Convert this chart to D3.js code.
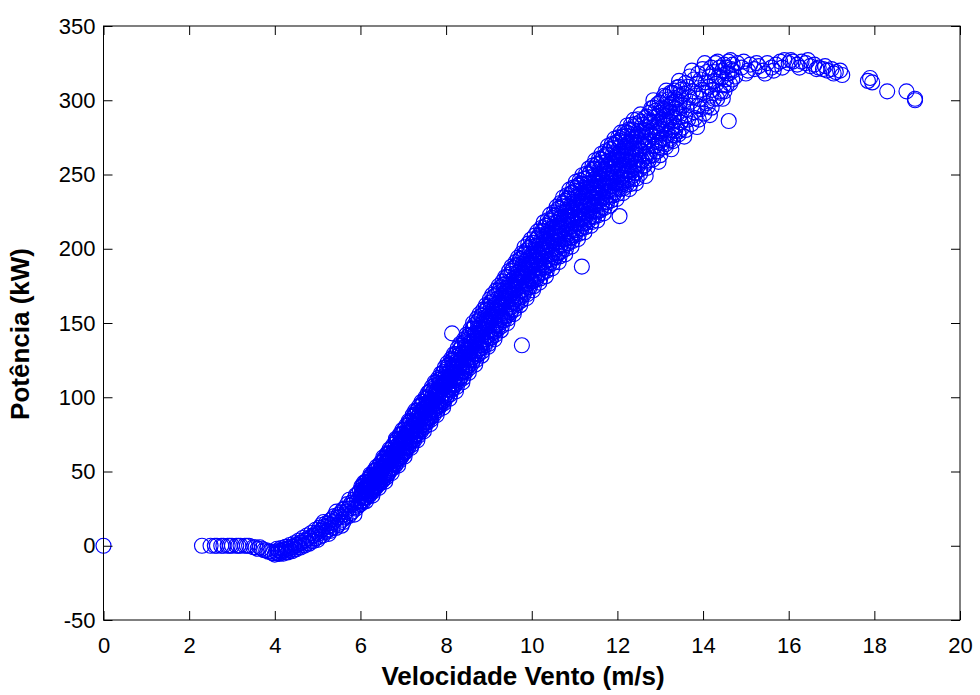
<!DOCTYPE html>
<html><head><meta charset="utf-8">
<script src="https://cdn.jsdelivr.net/npm/d3@7"></script>
<style>body{margin:0;background:#fff}svg{display:block}text{font-family:"Liberation Sans",Arial,sans-serif}</style>
</head><body><svg id="c" width="980" height="695"></svg>
<script>
const xTicks=[0,2,4,6,8,10,12,14,16,18,20];
const yTicks=[-50,0,50,100,150,200,250,300,350];
const xLabel="Velocidade Vento (m/s)";
const yLabel="Potência (kW)";

// ---- samples: wind speed (m/s) / power (kW) ----
// below cut-in
const speedLow=[0,2.3,2.5,2.6,2.65,2.75,2.8,2.9,2.95,3.0,3.1,3.15,3.2,3.3,3.35,3.4,3.5,3.55,3.6,3.65,3.7,3.75,3.8,3.85,3.9,3.95];
const powerLow=[0,0,0,0,0,0,0,0,0,0,0,0,0,0,0,0,-1,-1,-2,-1,-2,-3,-3,-4,-4,-5];
// 4 - 6 m/s
const speedRise=[
4.0,4.06,4.03,4.08,4.05, 4.1,4.16,4.13,4.18,4.15, 4.2,4.26,4.23,4.28,4.25, 4.3,4.36,4.33,4.38,4.35, 4.4,4.46,4.43,4.48,4.45,
4.5,4.56,4.53,4.58,4.55, 4.6,4.66,4.63,4.68,4.65, 4.7,4.76,4.73,4.78,4.75, 4.8,4.86,4.83,4.88,4.85, 4.9,4.96,4.93,4.98,4.95,
5,5.05,5.02,5.07,5.04,5.09, 5.13,5.18,5.11,5.16,5.19,5.14, 5.26,5.21,5.28,5.23,5.25,5.29, 5.3,5.35,5.32,5.37,5.34,5.39,
5.43,5.48,5.41,5.46,5.49,5.44, 5.56,5.51,5.58,5.53,5.55,5.59, 5.6,5.65,5.62,5.67,5.64,5.69, 5.73,5.78,5.71,5.76,5.79,5.74,
5.86,5.81,5.88,5.83,5.85,5.89, 5.9,5.95,5.92,5.97,5.94,5.99];
const powerRise=[
-6,-5,-4,-3,-2, -5.5,-4.5,-3.5,-2.5,-1.5, -5.3,-4.1,-3,-1.9,-0.8, -4.5,-3.3,-2,-0.7,0.5, -3.7,-2.4,-1,0.4,1.7,
-2.4,-0.9,0.5,1.9,3.4, -1.2,0.4,2,3.6,5.2, 0.1,1.8,3.5,5.2,6.9, 1.4,3.2,5,6.8,8.6, 3.2,5.1,7,8.9,10.8,
4,6,8,10,12,14, 7,9,11,13,15,16, 8,10,11,13,15,17, 10,12,14,16,18,20,
12,14,17,19,21,23, 13.5,15.5,17.5,19.5,22.5,24.5, 16,19,21,23,25,28, 20,22,25,27,29,31,
21,23,26,28,31,34, 25,27,30,32,35,37];
// 6 - 12.5 m/s (dense band)
const speedCore=[
6,6.02,6.01,6.03,6.04,6.02, 6.06,6.08,6.05,6.09,6.07,6.08, 6.13,6.1,6.12,6.11,6.14,6.12, 6.15,6.17,6.16,6.18,6.19,6.17,
6.21,6.23,6.2,6.24,6.22,6.23, 6.28,6.25,6.27,6.26,6.29,6.27, 6.3,6.32,6.31,6.33,6.34,6.32, 6.36,6.38,6.35,6.39,6.37,6.38,
6.43,6.4,6.42,6.41,6.44,6.42, 6.45,6.47,6.46,6.48,6.49,6.47, 6.51,6.53,6.5,6.54,6.52,6.53, 6.58,6.55,6.57,6.56,6.59,6.57,
6.6,6.62,6.61,6.63,6.64,6.62, 6.66,6.68,6.65,6.69,6.67,6.68, 6.73,6.7,6.72,6.71,6.74,6.72, 6.75,6.77,6.76,6.78,6.79,6.77,
6.81,6.83,6.8,6.84,6.82,6.83, 6.88,6.85,6.87,6.86,6.89,6.87, 6.9,6.92,6.91,6.93,6.94,6.92, 6.96,6.98,6.95,6.99,6.97,6.98,
7.03,7,7.02,7.01,7.04,7.02, 7.05,7.07,7.06,7.08,7.09,7.07, 7.11,7.13,7.1,7.14,7.12,7.13, 7.18,7.15,7.17,7.16,7.19,7.17,
7.2,7.22,7.21,7.23,7.24,7.22, 7.26,7.28,7.25,7.29,7.27,7.28, 7.33,7.3,7.32,7.31,7.34,7.32, 7.35,7.37,7.36,7.38,7.39,7.37,
7.41,7.43,7.4,7.44,7.42,7.43, 7.48,7.45,7.47,7.46,7.49,7.47, 7.5,7.52,7.51,7.53,7.54,7.52, 7.56,7.58,7.55,7.59,7.57,7.58,
7.63,7.6,7.62,7.61,7.64,7.62, 7.65,7.67,7.66,7.68,7.69,7.67, 7.71,7.73,7.7,7.74,7.72,7.73, 7.78,7.75,7.77,7.76,7.79,7.77,
7.8,7.82,7.81,7.83,7.84,7.82, 7.86,7.88,7.85,7.89,7.87,7.88, 7.93,7.9,7.92,7.91,7.94,7.92, 7.95,7.97,7.96,7.98,7.99,7.97,
8.01,8.03,8,8.04,8.02,8.03, 8.08,8.05,8.07,8.06,8.09,8.07, 8.1,8.12,8.11,8.13,8.14,8.12, 8.16,8.18,8.15,8.19,8.17,8.18,
8.23,8.2,8.22,8.21,8.24,8.22, 8.25,8.27,8.26,8.28,8.29,8.27, 8.31,8.33,8.3,8.34,8.32,8.33, 8.38,8.35,8.37,8.36,8.39,8.37,
8.4,8.42,8.41,8.43,8.44,8.42, 8.46,8.48,8.45,8.49,8.47,8.48, 8.53,8.5,8.52,8.51,8.54,8.52, 8.55,8.57,8.56,8.58,8.59,8.57,
8.61,8.63,8.6,8.64,8.62,8.63, 8.68,8.65,8.67,8.66,8.69,8.67, 8.7,8.72,8.71,8.73,8.74,8.72, 8.76,8.78,8.75,8.79,8.77,8.78,
8.83,8.8,8.82,8.81,8.84,8.82, 8.85,8.87,8.86,8.88,8.89,8.87, 8.91,8.93,8.9,8.94,8.92,8.93, 8.98,8.95,8.97,8.96,8.99,8.97,
9,9.02,9.01,9.03,9.04,9.02, 9.06,9.08,9.05,9.09,9.07,9.08, 9.13,9.1,9.12,9.11,9.14,9.12, 9.15,9.17,9.16,9.18,9.19,9.17,
9.21,9.23,9.2,9.24,9.22,9.23, 9.28,9.25,9.27,9.26,9.29,9.27, 9.3,9.32,9.31,9.33,9.34,9.32, 9.36,9.38,9.35,9.39,9.37,9.38,
9.43,9.4,9.42,9.41,9.44,9.42, 9.45,9.47,9.46,9.48,9.49,9.47, 9.51,9.53,9.5,9.54,9.52,9.53, 9.58,9.55,9.57,9.56,9.59,9.57,
9.6,9.62,9.61,9.63,9.64,9.62, 9.66,9.68,9.65,9.69,9.67,9.68, 9.73,9.7,9.72,9.71,9.74,9.72, 9.75,9.77,9.76,9.78,9.79,9.77,
9.81,9.83,9.8,9.84,9.82,9.83, 9.88,9.85,9.87,9.86,9.89,9.87, 9.9,9.92,9.91,9.93,9.94,9.92, 9.96,9.98,9.95,9.99,9.97,9.98,
10.03,10,10.02,10.01,10.04,10.02, 10.05,10.07,10.06,10.08,10.09,10.07, 10.11,10.13,10.1,10.14,10.12,10.13, 10.18,10.15,10.17,10.16,10.19,10.17,
10.2,10.22,10.21,10.23,10.24,10.22, 10.26,10.28,10.25,10.29,10.27,10.28, 10.33,10.3,10.32,10.31,10.34,10.32, 10.35,10.37,10.36,10.38,10.39,10.37,
10.41,10.43,10.4,10.44,10.42,10.43, 10.48,10.45,10.47,10.46,10.49,10.47, 10.5,10.52,10.51,10.53,10.54,10.52, 10.56,10.58,10.55,10.59,10.57,10.58,
10.63,10.6,10.62,10.61,10.64,10.62, 10.65,10.67,10.66,10.68,10.69,10.67, 10.71,10.73,10.7,10.74,10.72,10.73, 10.78,10.75,10.77,10.76,10.79,10.77,
10.8,10.82,10.81,10.83,10.84,10.82, 10.86,10.88,10.85,10.89,10.87,10.88, 10.93,10.9,10.92,10.91,10.94,10.92, 10.95,10.97,10.96,10.98,10.99,10.97,
11.01,11.03,11,11.04,11.02,11.03, 11.08,11.05,11.07,11.06,11.09,11.07, 11.1,11.12,11.11,11.13,11.14,11.12, 11.16,11.18,11.15,11.19,11.17,11.18,
11.23,11.2,11.22,11.21,11.24,11.22, 11.25,11.27,11.26,11.28,11.29,11.27, 11.31,11.33,11.3,11.34,11.32,11.33, 11.38,11.35,11.37,11.36,11.39,11.37,
11.4,11.42,11.41,11.43,11.44,11.42, 11.46,11.48,11.45,11.49,11.47,11.48, 11.53,11.5,11.52,11.51,11.54,11.52, 11.55,11.57,11.56,11.58,11.59,11.57,
11.61,11.63,11.6,11.64,11.62,11.63, 11.68,11.65,11.67,11.66,11.69,11.67, 11.7,11.72,11.71,11.73,11.74,11.72, 11.76,11.78,11.75,11.79,11.77,11.78,
11.83,11.8,11.82,11.81,11.84,11.82, 11.85,11.87,11.86,11.88,11.89,11.87, 11.91,11.93,11.9,11.94,11.92,11.93, 11.98,11.95,11.97,11.96,11.99,11.97,
12,12.02,12.01,12.03,12.04,12.02, 12.06,12.08,12.05,12.09,12.07,12.08, 12.13,12.1,12.12,12.11,12.14,12.12, 12.15,12.17,12.16,12.18,12.19,12.17,
12.21,12.23,12.2,12.24,12.22,12.23, 12.28,12.25,12.27,12.26,12.29,12.27, 12.3,12.32,12.31,12.33,12.34,12.32, 12.36,12.38,12.35,12.39,12.37,12.38,
12.43,12.4,12.42,12.41,12.44,12.42, 12.45,12.47,12.46,12.48,12.49,12.47];
const powerCore=[
28,30,33,35,38,40, 29.5,32.5,35.5,37.5,40.5,42.5, 30,32,35,37,40,43, 32.5,34.5,37.5,39.5,42.5,44.5,
34,37,40,43,46,48, 33.8,36.8,39.8,41.8,44.8,47.8, 36.5,39.5,42.5,44.5,47.5,50.5, 39.2,42.2,45.2,48.2,51.2,53.2,
39,42,45,47,50,53, 41.8,44.8,47.8,49.8,52.8,55.8, 43.5,46.5,50.5,53.5,56.5,59.5, 43.2,46.2,49.2,53.2,56.2,59.2,
46,49,52,56,59,62, 49,52,56,59,62,65, 49,52,55,59,62,65, 52,55,58,62,65,68,
54,58,61,65,69,72, 54,57,61,65,68,72, 57,60,64,68,72,75, 60,64,67,71,75,78,
60,63,67,71,74,78, 63,66,70,74,78,81, 66,70,73,77,81,84, 66,69,73,77,80,84,
68,72,76,80,84,88, 71,75,79,84,88,91, 71,75,79,83,87,91, 74,78,82,86,90,94,
77,81,85,90,94,97, 77,81,85,89,93,97, 80,84,88,92,96,100, 83,87,91,96,100,103,
82,86,90,95,99,104, 85,89,94,98,103,107, 88,93,97,102,106,110, 88,92,96,101,105,110,
91,95,100,104,109,113, 94,99,103,108,112,116, 93,97,102,107,112,116, 96,101,106,110,115,120,
100,105,109,114,119,123, 99,103,108,113,118,122, 102,107,112,116,121,126, 106,111,115,120,125,129,
104,108,114,119,124,129, 107,112,117,123,128,133, 111,116,121,126,132,136, 110,114,120,125,130,135,
113,118,123,129,134,139, 117.2,122.2,127.2,132.2,138.2,142.2, 116.5,120.5,126.5,131.5,136.5,141.5, 119.8,124.8,129.8,135.8,140.8,145.8,
123,129,134,140,146,150, 122,127,132,138,143,149, 125,131,136,142,147,153, 129,135,140,146,152,156,
128,133,138,144,149,155, 131,137,142,148,153,159, 135,141,146,152,158,162, 134,139,144,150,155,161,
136,142,148,154,160,166, 140,146,152,158,164,169, 139,144,150,156,162,168, 142,148,154,160,166,172,
146,152,158,164,170,175, 145,150,156,162,168,174, 148,154,160,166,172,178, 152,158,164,170,176,181,
150,155,162,168,174,181, 153,160,166,172,178,185, 157,164,170,176,183,188, 156,161,168,174,180,187,
159,166,172,178,184,191, 163,170,176,182,189,194, 162,167,174,180,186,193, 165,172,178,184,190,197,
169,175,182,189,196,201, 166.8,172.8,179.8,185.8,192.8,198.8, 169.5,176.5,183.5,189.5,196.5,203.5, 174.2,180.2,187.2,194.2,201.2,206.2,
172,178,185,191,198,204, 174.8,181.8,188.8,194.8,201.8,208.8, 179.5,185.5,192.5,199.5,206.5,211.5, 177.2,183.2,190.2,196.2,203.2,209.2,
180,187,194,200,207,214, 183.8,190.8,197.8,204.8,211.8,217.8, 181.5,187.5,194.5,201.5,208.5,215.5, 185.2,192.2,199.2,205.2,212.2,219.2,
189,196,203,210,217,223, 186.8,192.8,199.8,206.8,213.8,220.8, 190.5,197.5,204.5,210.5,217.5,224.5, 194.2,201.2,208.2,215.2,222.2,228.2,
191,197,205,212,220,227, 194.8,201.8,208.8,216.8,223.8,230.8, 198.5,206.5,213.5,220.5,228.5,234.5, 196.2,202.2,210.2,217.2,225.2,232.2,
200,207,214,222,229,236, 203.8,211.8,218.8,225.8,233.8,239.8, 201.5,207.5,215.5,222.5,230.5,237.5, 205.2,212.2,219.2,227.2,234.2,241.2,
209,217,224,231,239,245, 206.5,212.5,220.5,227.5,235.5,242.5, 210,217,224,232,239,246, 213.5,221.5,228.5,235.5,243.5,249.5,
211,217,225,232,240,247, 214.5,221.5,228.5,236.5,243.5,250.5, 218,226,233,240,248,254, 215.5,221.5,229.5,236.5,244.5,251.5,
218,225,233,241,249,256, 221.5,229.5,237.5,245.5,253.5,259.5, 219,226,234,241,249,257, 222.5,229.5,237.5,245.5,253.5,260.5,
226,234,242,250,258,264, 223.8,230.8,238.8,245.8,253.8,261.8, 227.5,234.5,242.5,250.5,258.5,265.5, 231.2,239.2,247.2,255.2,263.2,269.2,
229,236,244,251,259,267, 232.5,239.5,247.5,255.5,263.5,270.5, 236,244,252,260,268,274, 233.5,240.5,248.5,255.5,263.5,271.5,
237,244,252,260,268,275, 240.2,248.2,256.2,264.2,272.2,278.2, 237.5,244.5,252.5,259.5,267.5,275.5, 240.8,247.8,255.8,263.8,271.8,278.8,
243,252,260,268,276,283, 240.2,247.2,255.2,263.2,271.2,280.2, 243.5,251.5,259.5,267.5,275.5,283.5, 246.8,255.8,263.8,271.8,279.8,286.8,
244,251,259,267,275,284, 247.2,255.2,263.2,271.2,279.2,287.2];
// more samples inside the band (6 - 13.5 m/s)
const speedFill=[
6.03,6.07,6.01,6.05,6.08,6.04, 6.13,6.17,6.11,6.15,6.18,6.14, 6.23,6.27,6.21,6.25,6.28,6.24, 6.33,6.37,6.31,6.35,6.38,6.34,
6.43,6.47,6.41,6.45,6.48,6.44, 6.53,6.57,6.51,6.55,6.58,6.54, 6.63,6.67,6.61,6.65,6.68,6.64, 6.73,6.77,6.71,6.75,6.78,6.74,
6.83,6.87,6.81,6.85,6.88,6.84, 6.93,6.97,6.91,6.95,6.98,6.94, 7.03,7.07,7.01,7.05,7.08,7.04, 7.13,7.17,7.11,7.15,7.18,7.14,
7.23,7.27,7.21,7.25,7.28,7.24, 7.33,7.37,7.31,7.35,7.38,7.34, 7.43,7.47,7.41,7.45,7.48,7.44, 7.53,7.57,7.51,7.55,7.58,7.54,
7.63,7.67,7.61,7.65,7.68,7.64, 7.73,7.77,7.71,7.75,7.78,7.74, 7.83,7.87,7.81,7.85,7.88,7.84, 7.93,7.97,7.91,7.95,7.98,7.94,
8.03,8.07,8.01,8.05,8.08,8.04, 8.13,8.17,8.11,8.15,8.18,8.14, 8.23,8.27,8.21,8.25,8.28,8.24, 8.33,8.37,8.31,8.35,8.38,8.34,
8.43,8.47,8.41,8.45,8.48,8.44, 8.53,8.57,8.51,8.55,8.58,8.54, 8.63,8.67,8.61,8.65,8.68,8.64, 8.73,8.77,8.71,8.75,8.78,8.74,
8.83,8.87,8.81,8.85,8.88,8.84, 8.93,8.97,8.91,8.95,8.98,8.94, 9.03,9.07,9.01,9.05,9.08,9.04, 9.13,9.17,9.11,9.15,9.18,9.14,
9.23,9.27,9.21,9.25,9.28,9.24, 9.33,9.37,9.31,9.35,9.38,9.34, 9.43,9.47,9.41,9.45,9.48,9.44, 9.53,9.57,9.51,9.55,9.58,9.54,
9.63,9.67,9.61,9.65,9.68,9.64, 9.73,9.77,9.71,9.75,9.78,9.74, 9.83,9.87,9.81,9.85,9.88,9.84, 9.93,9.97,9.91,9.95,9.98,9.94,
10.03,10.07,10.01,10.05,10.08,10.04, 10.13,10.17,10.11,10.15,10.18,10.14, 10.23,10.27,10.21,10.25,10.28,10.24, 10.33,10.37,10.31,10.35,10.38,10.34,
10.43,10.47,10.41,10.45,10.48,10.44, 10.53,10.57,10.51,10.55,10.58,10.54, 10.63,10.67,10.61,10.65,10.68,10.64, 10.73,10.77,10.71,10.75,10.78,10.74,
10.83,10.87,10.81,10.85,10.88,10.84, 10.93,10.97,10.91,10.95,10.98,10.94, 11.03,11.07,11.01,11.05,11.08,11.04, 11.13,11.17,11.11,11.15,11.18,11.14,
11.23,11.27,11.21,11.25,11.28,11.24, 11.33,11.37,11.31,11.35,11.38,11.34, 11.43,11.47,11.41,11.45,11.48,11.44, 11.53,11.57,11.51,11.55,11.58,11.54,
11.63,11.67,11.61,11.65,11.68,11.64, 11.73,11.77,11.71,11.75,11.78,11.74, 11.83,11.87,11.81,11.85,11.88,11.84, 11.93,11.97,11.91,11.95,11.98,11.94,
12.03,12.07,12.01,12.05,12.08,12.04, 12.13,12.17,12.11,12.15,12.18,12.14, 12.23,12.27,12.21,12.25,12.28,12.24, 12.33,12.37,12.31,12.35,12.38,12.34,
12.43,12.47,12.41,12.45,12.48,12.44,
12.53,12.57,12.51,12.55,12.58,12.54, 12.63,12.67,12.61,12.65,12.68,12.64, 12.73,12.77,12.71,12.75,12.78,12.74, 12.83,12.87,12.81,12.85,12.88,12.84,
12.93,12.97,12.91,12.95,12.98,12.94, 13.03,13.07,13.01,13.05,13.08,13.04, 13.13,13.17,13.11,13.15,13.18,13.14, 13.23,13.27,13.21,13.25,13.28,13.24,
13.33,13.37,13.31,13.35,13.38,13.34, 13.43,13.47,13.41,13.45,13.48,13.44];
const powerFill=[
30,32,34,36,38,40, 33,35,37,39,41,43, 35,37,40,42,45,47, 38.5,40.5,43.5,45.5,48.5,50.5,
42,44,47,49,52,54, 44.5,47.5,50.5,52.5,55.5,58.5, 48,51,54,56,59,62, 52,55,58,60,63,66,
55,58,61,65,68,71, 59,62,65,69,72,75, 63,66,69,73,76,79, 67,70,73,77,80,83,
71,74,77,81,84,87, 75,78,81,85,88,91, 79,82,85,89,92,95, 83,86,89,93,96,99,
86,90,93,97,100,104, 90,94,97,101,104,108, 94,98,101,105,108,112, 97,101,105,109,113,117,
101,105,109,113,117,121, 105,109,113,117,121,125, 109,113,117,121,125,129, 113,117,121,125,129,133,
117,121,125,129,133,137, 121.5,125.5,129.5,133.5,137.5,141.5, 125,129,134,138,143,147, 129,133,138,142,147,151,
133,137,142,146,151,155, 137,141,146,150,155,159, 140,145,150,154,159,164, 144,149,154,158,163,168,
148,153,158,162,167,172, 152,157,162,166,171,176, 155,160,165,171,176,181, 159,164,169,175,180,185,
163,168,173,179,184,189, 167,172,177,183,188,193, 171,176,181,187,192,197, 174.5,179.5,184.5,190.5,195.5,200.5,
178,183,188,194,199,204, 181.5,186.5,191.5,197.5,202.5,207.5, 184,189,195,201,207,212, 187.5,192.5,198.5,204.5,210.5,215.5,
191,196,202,208,214,219, 194.5,199.5,205.5,211.5,217.5,222.5, 197,203,209,215,221,227, 200.5,206.5,212.5,218.5,224.5,230.5,
204,210,216,222,228,234, 207.5,213.5,219.5,225.5,231.5,237.5, 211,217,223,229,235,241, 214,220,226,232,238,244,
217,223,229,235,241,247, 220,226,232,238,244,250, 222,229,235,241,247,254, 225,232,238,244,250,257,
228,235,241,247,253,260, 231.5,238.5,244.5,250.5,256.5,263.5, 235,242,248,254,260,267, 238,245,251,257,263,270,
241,248,254,260,266,273, 243.5,250.5,256.5,262.5,268.5,275.5, 246,252,259,265,272,278, 248.5,254.5,261.5,267.5,274.5,280.5,
251,257,264,270,277,283,
253.5,259.5,266.5,272.5,279.5,285.5, 256,262,269,275,282,288, 259.5,265.5,272.5,278.5,285.5,291.5, 263,269,276,282,289,295,
265.5,271.5,278.5,284.5,291.5,297.5, 268,274,281,287,294,300, 270.5,277.5,283.5,289.5,295.5,302.5, 273,280,286,292,298,305,
276.5,282.5,288.5,294.5,300.5,306.5, 279,285,291,297,303,309];
// 12.5 - 14.7 m/s
const speedUpper=[
12.53,12.58,12.51,12.56,12.59,12.54, 12.66,12.61,12.68,12.63,12.65,12.69, 12.7,12.75,12.72,12.77,12.74,12.79,
12.83,12.88,12.81,12.86,12.89,12.84, 12.96,12.91,12.98,12.93,12.95,12.99, 13,13.05,13.02,13.07,13.04,13.09,
13.13,13.18,13.11,13.16,13.19,13.14, 13.26,13.21,13.28,13.23,13.25,13.29, 13.3,13.35,13.32,13.37,13.34,13.39,
13.43,13.48,13.41,13.46,13.49,13.44, 13.56,13.51,13.58,13.53,13.55,13.59, 13.6,13.65,13.62,13.67,13.64,13.69,
13.73,13.78,13.71,13.76,13.79,13.74, 13.86,13.81,13.88,13.83,13.85,13.89, 13.9,13.95,13.92,13.97,13.94,13.99,
14.03,14.08,14.01,14.06,14.09,14.04, 14.16,14.11,14.18,14.13,14.15,14.19, 14.2,14.25,14.22,14.27,14.24,14.29,
14.33,14.38,14.31,14.36,14.39,14.34, 14.46,14.41,14.48,14.43,14.45,14.49, 14.5,14.55,14.52,14.57,14.54,14.59,
14.63,14.68,14.61,14.66,14.69,14.64];
const powerUpper=[
250.5,259.5,267.5,275.5,283.5,290.5, 249,256,264,272,280,289, 254.5,262.5,270.5,278.5,286.5,294.5,
260,269,277,285,293,300, 258.5,265.5,273.5,281.5,289.5,298.5, 263,271,279,287,295,303,
268.5,276.5,284.5,292.5,300.5,306.5, 267,274,282,289,297,305, 272.5,279.5,286.5,294.5,301.5,308.5,
277,285,292,299,307,313, 275.5,281.5,289.5,296.5,304.5,311.5, 280,287,294,302,309,316,
284,292,299,306,314,320, 282,288,296,303,311,318, 287,294,301,307,314,321,
291,298,305,312,319,325, 290,296,303,309,316,322, 295,301,307,313,319,325,
301,306,311,316,322,326, 301,305,310,315,320,324, 306,310,314,318,322,326,
311,314,318,321,324,327];
// rated region and high wind tail
const speedRated=[14.7,14.8,14.9,15.0,15.1,15.2,15.3,15.4,15.5,15.6,15.7,15.8,15.9,16.0,16.1,16.2,16.3,16.4,16.5,16.6,16.7,16.8,16.9,17.0,17.1,17.2,
14.75,14.95,15.05,15.25,15.45,15.65,15.85,16.05,16.25,16.45,16.65,16.85,17.05,17.25,
17.85,17.9,17.95,18.3,18.75,18.95,18.95];
const powerRated=[320,325,322,318,324,321,323,320,325,322,324,326,327,325,326,324,326,325,323,324,322,321,320,321,319,320,
316,326,320,325,318,320,322,327,322,327,321,323,318,317,
313,315,312,306,306,301,300];
// isolated points off the main band
const speedOutlier=[8.14,9.77,11.17,12.05,14.6];
const powerOutlier=[143,135,188,222,286];

const windSpeed=[...speedLow,...speedRise,...speedCore,...speedFill,...speedUpper,...speedRated,...speedOutlier];
const power=[...powerLow,...powerRise,...powerCore,...powerFill,...powerUpper,...powerRated,...powerOutlier];
if(windSpeed.length!==power.length) throw new Error("length mismatch "+windSpeed.length+" vs "+power.length+
  " fill "+speedFill.length+"/"+powerFill.length);

const m={left:103.5,right:960,top:26,bottom:620};
const svg=d3.select("#c");
const x=d3.scaleLinear().domain([0,20]).range([m.left,m.right]);
const y=d3.scaleLinear().domain([-50,350]).range([m.bottom,m.top]);

const pts=windSpeed.map((v,i)=>[v,power[i]]);
svg.append("g").selectAll("circle").data(pts).join("circle")
  .attr("cx",d=>x(d[0])).attr("cy",d=>y(d[1])).attr("r",7.5)
  .attr("fill","none").attr("stroke","#0000ff").attr("stroke-width",1.15);

const tl=9;
const fmt=d=>(d<0?"-":"")+Math.abs(d);
const gx=svg.append("g").attr("transform",`translate(0,${m.bottom})`)
  .call(d3.axisBottom(x).tickValues(xTicks).tickSize(-tl).tickPadding(17).tickFormat(fmt));
const gxt=svg.append("g").attr("transform",`translate(0,${m.top})`)
  .call(d3.axisTop(x).tickValues(xTicks).tickSize(-tl).tickFormat(""));
const gy=svg.append("g").attr("transform",`translate(${m.left},0)`)
  .call(d3.axisLeft(y).tickValues(yTicks).tickSize(-tl).tickPadding(8).tickFormat(fmt));
const gyr=svg.append("g").attr("transform",`translate(${m.right},0)`)
  .call(d3.axisRight(y).tickValues(yTicks).tickSize(-tl).tickFormat(""));
[gx,gxt,gy,gyr].forEach(g=>{
  g.select(".domain").remove();
  g.selectAll("line").attr("stroke","#000").attr("stroke-width",1);
  g.selectAll("text").attr("font-size",22).attr("fill","#000").style("font-family","'Liberation Sans',Arial,sans-serif");
});
svg.append("rect").attr("x",m.left).attr("y",m.top).attr("width",m.right-m.left).attr("height",m.bottom-m.top)
  .attr("fill","none").attr("stroke","#000").attr("stroke-width",1);

svg.append("text").attr("x",523).attr("y",685).attr("text-anchor","middle")
  .attr("font-size",26).attr("font-weight","bold").text(xLabel);
svg.append("text").attr("transform","translate(29,334) rotate(-90)").attr("text-anchor","middle")
  .attr("font-size",26).attr("font-weight","bold").text(yLabel);
</script></body></html>
